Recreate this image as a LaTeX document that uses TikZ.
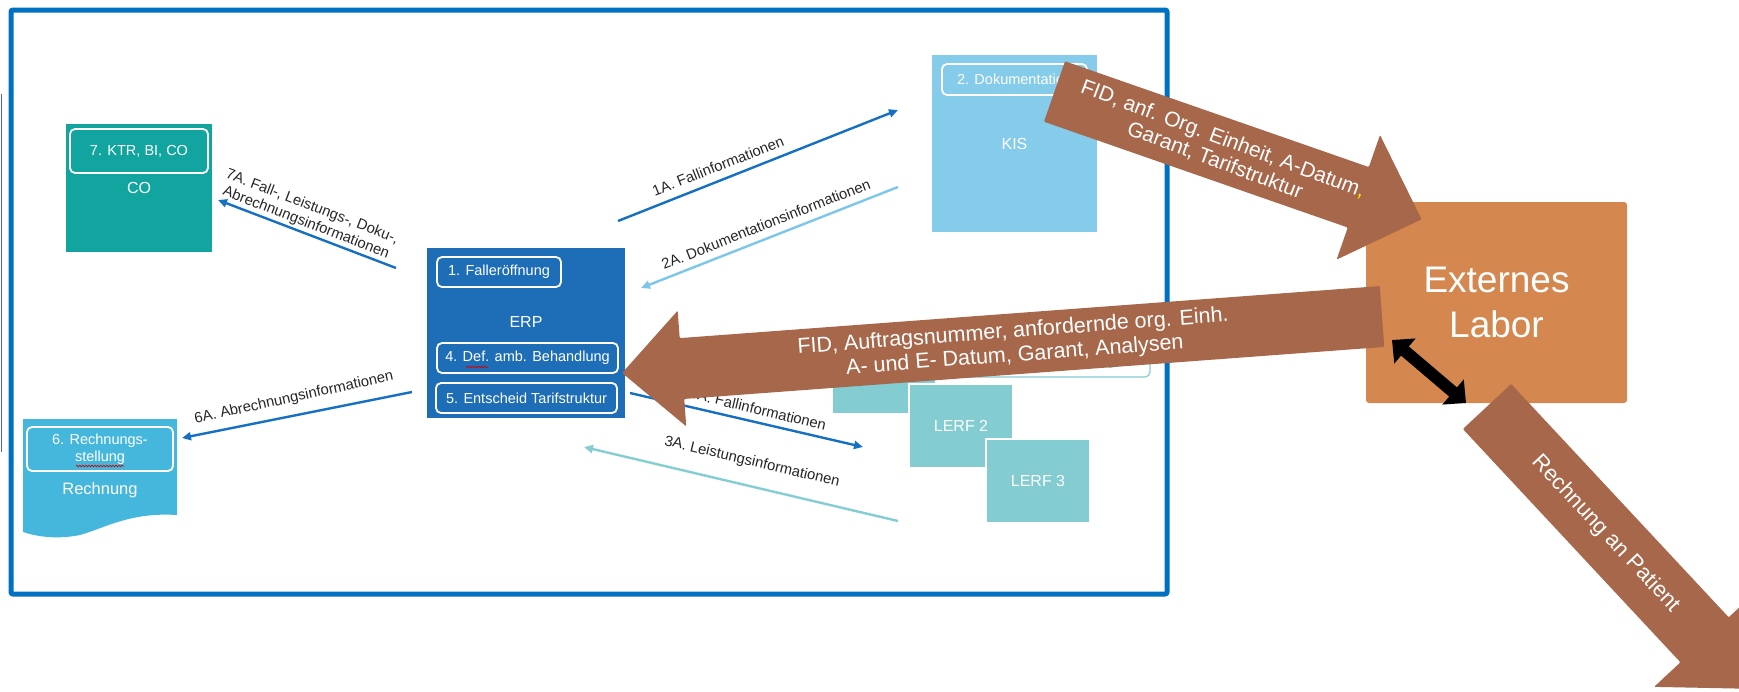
\documentclass[tikz,border=0pt]{standalone}
\usepackage{fontspec}
\setmainfont{Liberation Sans}
\usetikzlibrary{positioning,calc,arrows.meta,decorations.pathmorphing}

\definecolor{framblue}{HTML}{0070C0}
\definecolor{edgeline}{HTML}{4A64B5}
\definecolor{coteal}{HTML}{12A59F}
\definecolor{erpblue}{HTML}{1E6EB7}
\definecolor{kisblue}{HTML}{85CBEA}
\definecolor{lerfteal}{HTML}{82CCD2}
\definecolor{rgblue}{HTML}{45B7DC}
\definecolor{flowblue}{HTML}{1570C1}
\definecolor{docblue}{HTML}{7DC6EB}
\definecolor{lsteal}{HTML}{84CDD3}
\definecolor{brownarrow}{HTML}{A6674A}
\definecolor{labor}{HTML}{D4874F}
\definecolor{commayellow}{HTML}{FFE600}

\begin{document}
\begin{tikzpicture}[x=1pt,y=-1pt,
    sysbox/.style={rectangle,draw=white,line width=1.2pt,text=white,inner sep=0pt,font=\fontsize{16}{18}\selectfont},
    tagbox/.style={rectangle,draw=white,line width=1.8pt,rounded corners=5pt,text=white,inner sep=0pt,align=center,font=\fontsize{14.5}{17}\selectfont},
    infoflow/.style={line width=2.4pt,-{Triangle[length=9pt,width=8pt]}},
    flowlabel/.style={text=black!85,align=center,inner sep=0pt,font=\fontsize{14.8}{17}\selectfont},
    bigarrow/.style={fill=brownarrow,rounded corners=1pt},
    bigtext/.style={text=white,align=center,inner sep=0pt,font=\fontsize{21.5}{24}\selectfont},
    squiggle/.style={draw=red!85!black,line width=0.7pt,decorate,decoration={snake,amplitude=0.8pt,segment length=3pt}}
  ]
  \useasboundingbox (0,0) rectangle (1739,691);
  \clip (0,0) rectangle (1739,691);

  % frame
  \draw[edgeline,line width=1.5pt] (1.5,94) -- (1.5,452);
  \draw[framblue,line width=5pt,rounded corners=2pt] (11,10) rectangle (1167,594);

  % systems
  \node[sysbox,fill=coteal,minimum width=148pt,minimum height=130pt] (co) at (139,188) {CO};
  \node[tagbox,minimum width=138pt,minimum height=44pt] (co-tag) at (139,151) {7. KTR, BI, CO};

  \node[sysbox,fill=erpblue,minimum width=200pt,minimum height=172pt] (erp) at (526,333) {};
  \node[sysbox,draw=none] (erp-name) at (526,322) {ERP};
  \node[tagbox,minimum width=124pt,minimum height=30pt] (erp-1) at (499,272) {1. Falleröffnung};
  \node[tagbox,minimum width=181pt,minimum height=30pt] (erp-4) at (527.5,358) {4. Def. amb. Behandlung};
  \node[tagbox,minimum width=181pt,minimum height=30pt] (erp-5) at (526.5,398) {5. Entscheid Tarifstruktur};

  \node[sysbox,fill=kisblue,minimum width=167pt,minimum height=179pt] (kis) at (1014.5,143.5) {KIS};
  \node[tagbox,minimum width=145pt,minimum height=31pt] (kis-2) at (1014.5,79.5) {2. Dokumentation};

  \node[sysbox,fill=lerfteal,minimum width=104pt,minimum height=84pt] (lerf1) at (884,371.5) {};
  \node[sysbox,fill=lerfteal,minimum width=104pt,minimum height=84pt] (lerf2) at (961,426) {LERF 2};
  \node[sysbox,fill=lerfteal,minimum width=104pt,minimum height=84pt] (lerf3) at (1038,481) {LERF 3};
  \node[tagbox,draw=lerfteal,fill=white,text=lerfteal,line width=1.2pt,minimum width=214pt,minimum height=30pt] (lerf-tag) at (1043,362) {3. Leistungserfassung};

  % Rechnung (document)
  \fill[rgblue] (23,419) -- (177,419) -- (177,515) .. controls (130,512) and (105,528) .. (80,535)
    .. controls (55,540) and (35,536) .. (23,532) -- cycle;
  \node[tagbox,minimum width=146pt,minimum height=44pt] (rg-6) at (100,449) {6. Rechnungs-\\stellung};
  \node[sysbox,draw=none,font=\fontsize{16.5}{19}\selectfont] (rg-name) at (100,490) {Rechnung};
  \draw[squiggle] (76,466) -- (124,466);
  \draw[squiggle] (466,367) -- (488,367);

  % information flows
  \coordinate (erp-1a) at (618,221);
  \coordinate (kis-1a) at (898,110);
  \coordinate (kis-2a) at (898,187);
  \coordinate (erp-2a) at (641,288);
  \coordinate (erp-7a) at (396,268);
  \coordinate (co-7a) at (218,200);
  \coordinate (erp-6a) at (412,392);
  \coordinate (rg-6a) at (182,438);
  \coordinate (erp-4a) at (630,393);
  \coordinate (lerf-4a) at (863,447);
  \coordinate (lerf-3a) at (898,521);
  \coordinate (erp-3a) at (584,447);

  \draw[infoflow,flowblue] (erp-1a) -- (kis-1a);
  \draw[infoflow,docblue] (kis-2a) -- (erp-2a);
  \draw[infoflow,flowblue] (erp-7a) -- (co-7a);
  \draw[infoflow,flowblue] (erp-6a) -- (rg-6a);
  \draw[infoflow,flowblue] (erp-4a) -- (lerf-4a);
  \draw[infoflow,lsteal] (lerf-3a) -- (erp-3a);

  \node[flowlabel,rotate=21.6] (l1a) at (718,166) {1A. Fallinformationen};
  \node[flowlabel,rotate=21.5] (l2a) at (766,224) {2A. Dokumentationsinformationen};
  \node[flowlabel,rotate=-21] (l7a) at (309,215) {7A. Fall-, Leistungs-, Doku-,\\Abrechnungsinformationen};
  \node[flowlabel,rotate=12.4] (l6a) at (294,398) {6A. Abrechnungsinformationen};
  \node[flowlabel,rotate=-13.5] (l4a) at (758,409) {4A. Fallinformationen};
  \node[flowlabel,rotate=-13.3] (l3a) at (752,462) {3A. Leistungsinformationen};

  % externes Labor
  \node[sysbox,fill=labor,draw=none,rounded corners=3pt,minimum width=261pt,minimum height=201pt,
    align=center,font=\fontsize{37}{45}\selectfont] (labor) at (1496.5,302.5) {Externes\\Labor};

  % big arrows
  \begin{scope}[shift={(1054.5,91.5)},rotate=-19.2]
    \fill[bigarrow] (0,-32) -- (321.7,-32) -- (321.7,-66) -- (388.7,0) -- (321.7,66) -- (321.7,32) -- (0,32) -- cycle;
  \end{scope}
  \begin{scope}[shift={(1382,316.5)},rotate=184.25]
    \fill[bigarrow] (0,-30.5) -- (702,-30.5) -- (702,-58) -- (762,0) -- (702,58) -- (702,30.5) -- (0,30.5) -- cycle;
  \end{scope}
  \begin{scope}[shift={(1487,406.5)},rotate=-47]
    \fill[bigarrow] (0,-33) -- (319,-33) -- (319,-69) -- (386,0) -- (319,69) -- (319,33) -- (0,33) -- cycle;
  \end{scope}

  \node[bigtext,font=\fontsize{21}{23}\selectfont,rotate=-20.5] (kis-lab-text) at (1219,150)
    {FID, anf. Org. Einheit, A-Datum{\color{commayellow},}\\Garant, Tarifstruktur};
  \node[bigtext,rotate=4.3] (lab-erp-text) at (1014,344)
    {FID, Auftragsnummer, anfordernde org. Einh.\\A- und E- Datum, Garant, Analysen};
  \node[bigtext,font=\fontsize{22}{24}\selectfont,rotate=-47] (pat-text) at (1606,534) {Rechnung an Patient};

  % exchange with Labor
  \coordinate (lab-a) at (1392,340);
  \coordinate (lab-b) at (1466,403);
  \draw[line width=12pt,{Triangle[width=32pt,length=17pt]}-{Triangle[width=32pt,length=17pt]}] (lab-a) -- (lab-b);
\end{tikzpicture}
\end{document}
